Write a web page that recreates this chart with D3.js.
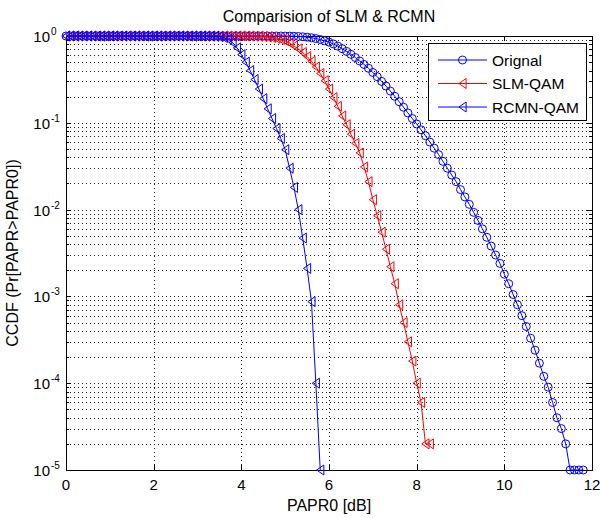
<!DOCTYPE html>
<meta charset="utf-8">
<style>
    body {margin: 0; background: #fff; font-family: "Liberation Sans", Arial, sans-serif;}
    svg text {fill: #000;}
</style>
<svg width="600" height="518"></svg>
<script src="https://cdnjs.cloudflare.com/ajax/libs/d3/7.8.5/d3.min.js"></script>
<script>
  /**
   * ----------------------------------------------------------------------------------------------
   * data
   * ----------------------------------------------------------------------------------------------
   */
  const papr0 = [
    0.0, 0.1, 0.2, 0.3, 0.4, 0.5, 0.6, 0.7, 0.8, 0.9,
    1.0, 1.1, 1.2, 1.3, 1.4, 1.5, 1.6, 1.7, 1.8, 1.9,
    2.0, 2.1, 2.2, 2.3, 2.4, 2.5, 2.6, 2.7, 2.8, 2.9,
    3.0, 3.1, 3.2, 3.3, 3.4, 3.5, 3.6, 3.7, 3.8, 3.9,
    4.0, 4.1, 4.2, 4.3, 4.4, 4.5, 4.6, 4.7, 4.8, 4.9,
    5.0, 5.1, 5.2, 5.3, 5.4, 5.5, 5.6, 5.7, 5.8, 5.9,
    6.0, 6.1, 6.2, 6.3, 6.4, 6.5, 6.6, 6.7, 6.8, 6.9,
    7.0, 7.1, 7.2, 7.3, 7.4, 7.5, 7.6, 7.7, 7.8, 7.9,
    8.0, 8.1, 8.2, 8.3, 8.4, 8.5, 8.6, 8.7, 8.8, 8.9,
    9.0, 9.1, 9.2, 9.3, 9.4, 9.5, 9.6, 9.7, 9.8, 9.9,
    10.0, 10.1, 10.2, 10.3, 10.4, 10.5, 10.6, 10.7, 10.8, 10.9,
    11.0, 11.1, 11.2, 11.3, 11.4, 11.5, 11.6, 11.7, 11.8
  ];

  // CCDF values, one per papr0 entry (series stop where the curve drops to zero)
  const orignal = [
    1, 1, 1, 1, 1, 1, 1, 1, 1, 1,
    1, 1, 1, 1, 1, 1, 1, 1, 1, 1,
    1, 1, 1, 1, 1, 1, 1, 1, 1, 1,
    1, 1, 1, 1, 1, 1, 1, 1, 1, 1,
    1, 1, 1, 1, 1, 1, 1, 1, 1, 1,
    0.998, 0.996, 0.993, 0.988, 0.98, 0.97, 0.955, 0.935, 0.91, 0.88,
    0.85, 0.81, 0.765, 0.715, 0.665, 0.615, 0.565, 0.515, 0.47, 0.425,
    0.38, 0.34, 0.30, 0.265, 0.232, 0.202, 0.175, 0.151, 0.13, 0.112,
    0.097, 0.083, 0.071, 0.06, 0.051, 0.043, 0.036, 0.03, 0.025, 0.021,
    0.017, 0.014, 0.0115, 0.0093, 0.0075, 0.006, 0.0048, 0.0038, 0.003, 0.0024,
    0.0018, 0.0014, 0.00105, 0.0008, 0.0006, 0.00045, 0.00033, 0.00024, 0.00017, 0.00012,
    0.00009, 0.00006, 0.00004, 0.00003, 0.00002, 0.00001, 0.00001, 0.00001, 0.00001
  ];

  const slmQam = [
    1, 1, 1, 1, 1, 1, 1, 1, 1, 1,
    1, 1, 1, 1, 1, 1, 1, 1, 1, 1,
    1, 1, 1, 1, 1, 1, 1, 1, 1, 1,
    1, 1, 1, 1, 1, 1, 1, 1, 1, 1,
    0.9995, 0.999, 0.998, 0.996, 0.993, 0.985, 0.975, 0.96, 0.94, 0.91,
    0.88, 0.83, 0.77, 0.71, 0.645, 0.58, 0.51, 0.44, 0.37, 0.305,
    0.245, 0.195, 0.155, 0.12, 0.095, 0.074, 0.058, 0.045, 0.031, 0.021,
    0.013, 0.0085, 0.0055, 0.0035, 0.0022, 0.0014, 0.0008, 0.0005, 0.0003, 0.00018,
    0.0001, 0.00006, 0.00002, 0.00002
  ];

  const rcmnQam = [
    1, 1, 1, 1, 1, 1, 1, 1, 1, 1,
    1, 1, 1, 1, 1, 1, 1, 1, 1, 1,
    1, 1, 1, 1, 1, 1, 1, 1, 1, 1,
    0.9995, 0.999, 0.998, 0.996, 0.992, 0.982, 0.96, 0.92, 0.84, 0.73,
    0.61, 0.50, 0.40, 0.315, 0.245, 0.19, 0.145, 0.112, 0.086, 0.066,
    0.049, 0.03, 0.018, 0.01, 0.0047, 0.0021, 0.00087, 0.0001, 0.00001
  ];

  const xTicks = [0, 2, 4, 6, 8, 10, 12];
  const yTicks = [1e0, 1e-1, 1e-2, 1e-3, 1e-4, 1e-5];
  const yExps = ["0", "-1", "-2", "-3", "-4", "-5"];

  const seriesNames = ["Orignal", "SLM-QAM", "RCMN-QAM"];
  const seriesColors = ["#0000ff", "#ff0000", "#0000ff"];
  const seriesMarkers = ["circle", "tri", "tri"];
  const seriesValues = [orignal, slmQam, rcmnQam];

  /**
   *----------------------------------------------------------------------------
   * definitions
   *----------------------------------------------------------------------------
   **/
  const plotL = 66, plotR = 592, plotT = 36, plotB = 470;

  const svg = d3.select("svg");

  const x = d3.scaleLinear().domain([0, 12]).range([plotL, plotR]);
  const y = d3.scaleLog().domain([1e-5, 1]).range([plotB, plotT]);

  // minor decade values for grid and ticks
  var minor = [];
  yTicks.slice(0, 5).forEach(function(d) {
    for (var k = 2; k <= 9; k++) minor.push(d / 10 * k);
  });

  /**------------------------------------------------------------------------
   * grid
   **----------------------------------------------------------------------**/
  var grid = svg.append("g")
    .attr("stroke", "#222")
    .attr("stroke-width", 1)
    .attr("stroke-dasharray", "1,3");

  grid.selectAll("line.gx")
    .data(xTicks.slice(1, -1))
    .enter().append("line")
      .attr("x1", d => Math.round(x(d)) + 0.5).attr("x2", d => Math.round(x(d)) + 0.5)
      .attr("y1", plotT).attr("y2", plotB);

  grid.selectAll("line.gy")
    .data(yTicks.slice(1, -1).concat(minor))
    .enter().append("line")
      .attr("x1", plotL).attr("x2", plotR)
      .attr("y1", d => Math.round(y(d)) + 0.5).attr("y2", d => Math.round(y(d)) + 0.5);

  /**------------------------------------------------------------------------
   * axes box and ticks
   **----------------------------------------------------------------------**/
  svg.append("rect")
    .attr("x", plotL + 0.5).attr("y", plotT + 0.5)
    .attr("width", plotR - plotL).attr("height", plotB - plotT)
    .attr("fill", "none").attr("stroke", "#000").attr("stroke-width", 1);

  var ticks = svg.append("g").attr("stroke", "#000").attr("stroke-width", 1);

  xTicks.forEach(function(d) {
    var px = Math.round(x(d)) + 0.5;
    ticks.append("line").attr("x1", px).attr("x2", px).attr("y1", plotB).attr("y2", plotB - 5);
    ticks.append("line").attr("x1", px).attr("x2", px).attr("y1", plotT).attr("y2", plotT + 5);
  });

  yTicks.forEach(function(d) {
    var py = Math.round(y(d)) + 0.5;
    ticks.append("line").attr("x1", plotL).attr("x2", plotL + 5).attr("y1", py).attr("y2", py);
    ticks.append("line").attr("x1", plotR).attr("x2", plotR - 5).attr("y1", py).attr("y2", py);
  });

  minor.forEach(function(d) {
    var py = Math.round(y(d)) + 0.5;
    ticks.append("line").attr("x1", plotL).attr("x2", plotL + 3).attr("y1", py).attr("y2", py);
    ticks.append("line").attr("x1", plotR).attr("x2", plotR - 3).attr("y1", py).attr("y2", py);
  });

  /**------------------------------------------------------------------------
   * tick labels
   **----------------------------------------------------------------------**/
  svg.append("g").selectAll("text")
    .data(xTicks)
    .enter().append("text")
      .attr("x", d => x(d))
      .attr("y", 490)
      .attr("text-anchor", "middle")
      .style("font-size", "15px")
      .text(d => d);

  var ylab = svg.append("g").selectAll("g")
    .data(yTicks)
    .enter().append("g")
      .attr("transform", d => "translate(0," + y(d) + ")");

  ylab.append("text")
    .attr("x", 50).attr("y", 6)
    .attr("text-anchor", "end")
    .style("font-size", "15px")
    .text("10");

  ylab.append("text")
    .attr("x", 51).attr("y", -1)
    .style("font-size", "10px")
    .text((d, i) => yExps[i]);

  /**------------------------------------------------------------------------
   * titles
   **----------------------------------------------------------------------**/
  svg.append("text")
    .attr("x", (plotL + plotR) / 2).attr("y", 22)
    .attr("text-anchor", "middle")
    .style("font-size", "16px")
    .text("Comparision of SLM & RCMN");

  svg.append("text")
    .attr("x", (plotL + plotR) / 2).attr("y", 511)
    .attr("text-anchor", "middle")
    .style("font-size", "16px")
    .text("PAPR0 [dB]");

  svg.append("text")
    .attr("transform", "translate(18," + (plotT + plotB) / 2 + ") rotate(-90)")
    .attr("text-anchor", "middle")
    .style("font-size", "16px")
    .text("CCDF (Pr[PAPR>PAPR0])");

  /**------------------------------------------------------------------------
   * series
   **----------------------------------------------------------------------**/
  const triPath = "M-3.6,0L3.6,-5L3.6,5Z";

  function drawMarker(g, kind, color) {
    if (kind === "circle") {
      g.append("circle").attr("r", 4)
        .attr("fill", "none").attr("stroke", color).attr("stroke-width", 1);
    } else {
      g.append("path").attr("d", triPath)
        .attr("fill", "none").attr("stroke", color).attr("stroke-width", 1);
    }
  }

  const line = d3.line()
    .x(d => x(d.x))
    .y(d => y(d.y));

  seriesValues.forEach(function(vals, s) {
    var pts = vals.map((v, i) => ({x: papr0[i], y: v}));
    var g = svg.append("g");
    g.append("path")
      .datum(pts)
      .attr("d", line)
      .attr("fill", "none")
      .attr("stroke", seriesColors[s])
      .attr("stroke-width", 1);
    g.selectAll("g.m")
      .data(pts)
      .enter().append("g")
        .attr("transform", d => "translate(" + x(d.x) + "," + y(d.y) + ")")
        .each(function() { drawMarker(d3.select(this), seriesMarkers[s], seriesColors[s]); });
  });

  /**------------------------------------------------------------------------
   * legend
   **----------------------------------------------------------------------**/
  var legend = svg.append("g");
  legend.append("rect")
    .attr("x", 428.5).attr("y", 43.5)
    .attr("width", 158).attr("height", 77)
    .attr("fill", "#fff").attr("stroke", "#000").attr("stroke-width", 1);

  seriesNames.forEach(function(name, i) {
    var ly = 60 + i * 23.5;
    legend.append("line")
      .attr("x1", 438).attr("x2", 487).attr("y1", ly).attr("y2", ly)
      .attr("stroke", seriesColors[i]).attr("stroke-width", 1);
    var m = legend.append("g").attr("transform", "translate(462.5," + ly + ")");
    drawMarker(m, seriesMarkers[i], seriesColors[i]);
    legend.append("text")
      .attr("x", 492).attr("y", ly + 5.5)
      .style("font-size", "15.5px")
      .text(name);
  });
</script>
